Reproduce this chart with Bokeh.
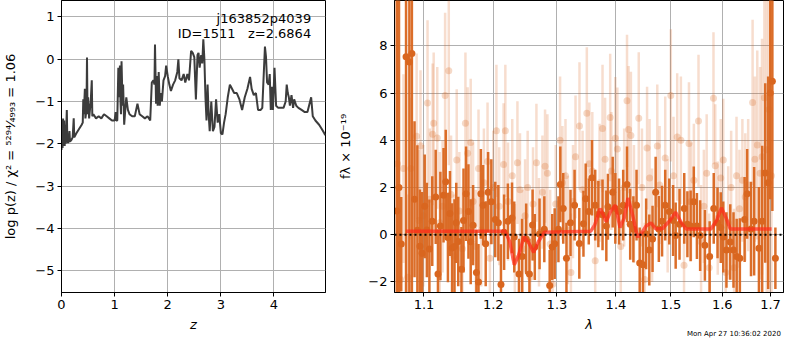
from bokeh.plotting import figure
from bokeh.layouts import row, column
from bokeh.models import Range1d, FixedTicker, CustomJSTickFormatter, Label, ColumnDataSource, Span, Div
from bokeh.embed import file_html
from bokeh.resources import INLINE

# ---------------- data: redshift probability ----------------
z_grid = [0.00, 0.01, 0.02, 0.03, 0.04, 0.05, 0.06, 0.07, 0.08, 0.10, 0.11, 0.13, 0.15, 0.16,
          0.19, 0.21, 0.23, 0.24, 0.28, 0.33, 0.38, 0.40, 0.41, 0.42, 0.44, 0.45, 0.47, 0.48,
          0.49, 0.50, 0.52, 0.55, 0.57, 0.58, 0.60, 0.65, 0.70, 0.75, 0.80, 0.85, 0.90, 0.95,
          1.00, 1.02, 1.03, 1.05, 1.07, 1.08, 1.10, 1.11, 1.12, 1.13, 1.15, 1.16, 1.18, 1.20,
          1.22, 1.25, 1.28, 1.33, 1.38, 1.43, 1.47, 1.52, 1.57, 1.62, 1.67, 1.70, 1.73, 1.75,
          1.76, 1.78, 1.80, 1.81, 1.83, 1.85, 1.87, 1.89, 1.92, 1.95, 1.97, 2.00, 2.03, 2.06,
          2.10, 2.14, 2.18, 2.20, 2.22, 2.26, 2.30, 2.33, 2.37, 2.40, 2.44, 2.47, 2.50, 2.53,
          2.56, 2.58, 2.60, 2.63, 2.65, 2.67, 2.69, 2.71, 2.73, 2.75, 2.77, 2.79, 2.82, 2.85,
          2.88, 2.91, 2.94, 2.97, 3.00, 3.03, 3.06, 3.09, 3.13, 3.17, 3.21, 3.25, 3.30, 3.35,
          3.40, 3.45, 3.50, 3.55, 3.58, 3.62, 3.66, 3.70, 3.75, 3.78, 3.83, 3.85, 3.87, 3.90,
          3.92, 3.94, 3.96, 3.98, 4.01, 4.04, 4.08, 4.12, 4.18, 4.22, 4.24, 4.26, 4.28, 4.30,
          4.33, 4.36, 4.38, 4.42, 4.46, 4.52, 4.58, 4.63, 4.66, 4.70, 4.73, 4.78, 4.85, 4.90,
          4.95, 4.97]
log_pz = [-2.15, -1.45, -2.10, -1.40, -2.05, -1.45, -2.05, -1.55, -2.00, -1.20, -1.95, -1.98, -1.70, -1.95,
          -1.90, -1.85, -1.40, -1.85, -1.75, -1.65, -1.55, -1.50, -0.95, -1.30, -0.70, -1.40, -1.20, 0.04,
          -1.30, -0.90, -1.40, -1.00, -0.50, -1.35, -1.30, -1.40, -1.35, -1.40, -1.30, -1.35, -1.40, -1.45,
          -1.45, -1.25, -1.45, -1.45, -0.20, -0.90, -0.15, -1.00, -1.30, -0.05, -1.10, -0.60, -1.55, -1.20,
          -0.90, -1.20, -1.30, -1.35, -1.35, -1.05, -1.30, -1.35, -1.40, -1.35, -1.45, -0.55, -0.50, -0.60,
          0.35, -1.05, -0.40, -1.10, -0.30, -1.10, -0.80, -1.00, -0.50, -0.40, -0.15, -0.40, -0.60, -0.75,
          -0.60, -0.50, -0.30, 0.00, -0.45, -0.50, -0.35, -0.55, -0.35, -0.50, 0.20, 0.15, 0.05, -0.95,
          0.10, 0.15, -0.20, 0.10, -0.10, 0.47, 0.00, -0.90, -1.45, -0.60, -1.30, -1.70, -1.00, -1.70,
          -1.60, -0.95, -1.50, -1.30, -1.75, -1.78, -1.50, -1.30, -0.90, -0.60, -0.70, -0.80, -0.80, -0.95,
          -1.20, -0.90, -0.70, -0.42, -0.70, -0.85, -0.80, -1.20, -1.20, -1.15, 0.30, 0.05, -0.55, -0.60,
          -0.35, -1.20, -0.65, -1.20, -0.20, -1.10, -1.15, -1.15, -1.15, -1.00, -0.60, -0.80, -0.90, -1.10,
          -0.85, -1.15, -0.95, -1.10, -1.15, -1.20, -1.25, -1.25, -1.10, -0.90, -1.35, -1.45, -1.55, -1.65,
          -1.76, -1.80]

z_ticks = [0, 1, 2, 3, 4]
pz_ticks = [1, 0, -1, -2, -3, -4, -5]

# ---------------- data: spectrum ----------------
dark_wave = [1.0630, 1.0660, 1.0690, 1.0755, 1.0800, 1.0834, 1.0870, 1.0909, 1.0944, 1.0974,
             1.1010, 1.1040, 1.1075, 1.1115, 1.1163, 1.1195, 1.1229, 1.1274, 1.1305, 1.1336,
             1.1365, 1.1395, 1.1430, 1.1455, 1.1484, 1.1530, 1.1560, 1.1597, 1.1632, 1.1665,
             1.1700, 1.1749, 1.1780, 1.1815, 1.1848, 1.1887, 1.1923, 1.1971, 1.2030, 1.2077,
             1.2117, 1.2165, 1.2223, 1.2286, 1.2321, 1.2394, 1.2443, 1.2507, 1.2558, 1.2608,
             1.2643, 1.2719, 1.2795, 1.2882, 1.2923, 1.2963, 1.3024, 1.3055, 1.3103, 1.3156,
             1.3223, 1.3291, 1.3370, 1.3440, 1.3478, 1.3530, 1.3585, 1.3640, 1.3694, 1.3766,
             1.3832, 1.3860, 1.3943, 1.3989, 1.4055, 1.4128, 1.4196, 1.4253, 1.4310, 1.4367,
             1.4424, 1.4483, 1.4541, 1.4599, 1.4659, 1.4716, 1.4775, 1.4835, 1.4894, 1.4970,
             1.5042, 1.5091, 1.5164, 1.5254, 1.5315, 1.5377, 1.5438, 1.5499, 1.5562, 1.5655,
             1.5749, 1.5830, 1.5906, 1.5970, 1.6021, 1.6085, 1.6162, 1.6228, 1.6293, 1.6358,
             1.6456, 1.6509, 1.6589, 1.6654, 1.6755, 1.6823, 1.6888, 1.6950, 1.6995, 1.7040,
             1.7105]
dark_flux = [1.0, 2.0, -0.4, 7.54, 7.31, 7.67, 1.5, 0.19, -0.49, -0.79,
             1.2, 0.2, -0.61, 0.57, 1.6, -1.67, 0.37, 1.67, 2.24, -0.12,
             0.9, -0.57, -0.5, 0.5, -0.29, -1.47, 0.6, 1.73, 0.98, -0.3,
             0.4, -1.6, -2.0, 1.73, 1.25, -0.38, 1.8, 1.39, 0.64, 0.5,
             -2.11, 0.1, 0.57, 0.71, -0.1, -1.67, -0.93, -0.18, -1.67, 0.41,
             -0.52, 0.03, 0.23, -2.15, -0.52, -0.38, 0.23, 2.13, 1.11, -1.0,
             0.5, 1.25, -0.37, 0.46, 1.52, 0.98, 2.41, 1.25, 0.87, 0.84,
             0.37, 1.18, 1.8, 1.11, 0.98, 1.25, 2.13, 0.44, 0.23, 1.25,
             -1.2, -1.27, 0.03, -0.65, -0.18, 1.8, 0.24, 0.57, 1.25, 0.98,
             0.6, -0.04, 0.44, 1.11, 0.44, 0.37, 1.39, 0.37, -0.04, -0.45,
             -0.93, 1.11, 0.5, 0.3, -0.1, -0.65, -0.31, -0.65, -0.93, -1.0,
             0.64, 1.73, 0.24, 0.57, -0.58, 0.57, 2.61, 2.2, 6.0, 6.5,
             -1.0]
dark_err = [12, 12, 2.0, 11, 11, 11, 3.3, 3.6, 2.4, 2.6,
            2.2, 2.0, 2.1, 1.9, 2.0, 1.9, 2.3, 2.0, 2.2, 1.9,
            1.8, 1.9, 2.0, 1.7, 1.9, 1.8, 2.2, 2.0, 2.0, 1.8,
            1.7, 1.8, 1.6, 1.9, 1.7, 1.8, 1.7, 1.8, 1.6, 1.6,
            1.7, 1.6, 1.6, 1.5, 1.5, 1.5, 1.6, 1.5, 1.5, 1.5,
            1.4, 1.5, 1.4, 1.5, 1.4, 1.5, 1.4, 1.6, 1.5, 1.5,
            1.4, 1.5, 1.5, 1.4, 1.5, 1.4, 1.6, 1.5, 1.4, 1.5,
            1.5, 1.4, 1.5, 1.5, 1.4, 1.5, 1.6, 1.5, 1.4, 1.5,
            1.5, 1.4, 1.5, 1.5, 1.4, 1.5, 1.4, 1.5, 1.5, 1.4,
            1.5, 1.4, 1.5, 1.5, 1.4, 1.5, 1.5, 1.4, 1.5, 1.5,
            1.5, 1.5, 1.5, 1.5, 1.5, 1.6, 1.6, 1.6, 1.6, 1.7,
            1.8, 1.9, 2.0, 2.3, 2.6, 3.2, 3.8, 4.5, 4.5, 5.5,
            1.3]

light_wave = [1.0640, 1.0680, 1.0720, 1.0780, 1.0820, 1.0899, 1.0930, 1.0952, 1.0990, 1.1049,
              1.1080, 1.1120, 1.1135, 1.1185, 1.1220, 1.1260, 1.1296, 1.1348, 1.1380, 1.1420,
              1.1462, 1.1500, 1.1545, 1.1588, 1.1620, 1.1665, 1.1700, 1.1740, 1.1780, 1.1820,
              1.1860, 1.1914, 1.1950, 1.2000, 1.2048, 1.2090, 1.2157, 1.2184, 1.2225, 1.2290,
              1.2330, 1.2370, 1.2410, 1.2450, 1.2490, 1.2530, 1.2570, 1.2615, 1.2669, 1.2710,
              1.2765, 1.2807, 1.2845, 1.2890, 1.2930, 1.2980, 1.3051, 1.3090, 1.3140, 1.3180,
              1.3230, 1.3265, 1.3307, 1.3373, 1.3425, 1.3497, 1.3540, 1.3590, 1.3640, 1.3715,
              1.3766, 1.3810, 1.3899, 1.3920, 1.3989, 1.4025, 1.4085, 1.4145, 1.4196, 1.4224,
              1.4265, 1.4320, 1.4407, 1.4465, 1.4515, 1.4558, 1.4605, 1.4650, 1.4746, 1.4790,
              1.4894, 1.4940, 1.4999, 1.5050, 1.5120, 1.5190, 1.5250, 1.5345, 1.5385, 1.5440,
              1.5530, 1.5580, 1.5635, 1.5690, 1.5740, 1.5825, 1.5860, 1.5910, 1.5970, 1.6021,
              1.6070, 1.6120, 1.6180, 1.6240, 1.6290, 1.6350, 1.6410, 1.6470, 1.6530, 1.6622,
              1.6670, 1.6720, 1.6780, 1.6820, 1.6870, 1.6920, 1.6970, 1.7020]
light_flux = [3.0, -1.9, 2.8, -1.8, 2.8, 4.17, 0.6, 3.77, 0.8, 5.58,
              1.5, 4.25, 4.72, 4.1, 0.5, 1.2, 5.9, 6.94, 1.7, -0.9,
              3.16, 1.0, -0.6, 4.72, 3.45, 3.9, 1.4, -0.5, 2.8, 0.2,
              2.2, 3.1, -1.0, 2.0, 4.4, 1.2, 2.97, 4.4, 1.4, 2.5,
              -1.0, 3.05, 1.9, -0.6, 0.8, 2.0, -1.8, 1.3, 3.05, 0.1,
              1.8, 2.9, 2.6, -0.4, -2.1, 1.3, 4.0, 2.2, 2.5, 0.2,
              -1.6, 1.4, 3.3, 4.6, 1.9, 5.14, 3.0, 2.7, -1.1, 2.2,
              4.5, 3.2, 4.96, 2.7, 4.08, 3.63, -0.5, 2.0, 5.67, 4.45,
              4.2, 1.3, 4.93, 2.0, -1.9, 3.67, 2.4, 0.4, 3.76, 2.1,
              3.25, 0.8, 5.9, 2.5, 4.14, 4.0, -1.3, 3.86, 1.4, 2.3,
              4.82, -0.3, 1.2, 2.6, -1.4, 5.78, 2.92, 0.7, 2.4, 3.16,
              -1.6, 0.5, 2.0, -1.4, 2.5, 1.1, 2.3, 1.6, 2.1, 5.6,
              3.2, 3.8, 2.6, 3.3, 5.8, 3.6, 5.3, 2.5]
light_err = [8.0, 4.0, 4.0, 3.5, 3.0, 3.5, 3.0, 3.2, 3.0, 3.5,
             3.0, 3.0, 3.0, 3.0, 3.0, 2.8, 3.5, 4.0, 2.5, 2.6,
             3.0, 2.5, 2.6, 3.0, 2.8, 2.7, 2.5, 2.4, 2.5, 2.4,
             2.3, 2.5, 2.4, 2.4, 2.8, 2.5, 2.6, 2.8, 2.5, 2.4,
             2.3, 2.6, 2.4, 2.5, 2.4, 2.4, 2.3, 2.4, 2.5, 2.3,
             2.4, 2.4, 2.5, 2.3, 2.4, 2.5, 2.7, 2.4, 2.4, 2.3,
             2.5, 2.4, 2.6, 2.7, 2.5, 2.8, 2.6, 2.5, 2.4, 2.5,
             2.7, 2.6, 2.7, 2.5, 2.6, 2.6, 2.4, 2.5, 2.8, 2.7,
             2.7, 2.5, 2.8, 2.5, 2.4, 2.6, 2.5, 2.4, 2.6, 2.5,
             2.6, 2.4, 2.8, 2.5, 2.7, 2.7, 2.4, 2.6, 2.5, 2.4,
             2.8, 2.4, 2.4, 2.5, 2.3, 2.8, 2.6, 2.4, 2.5, 2.6,
             2.4, 2.4, 2.4, 2.5, 2.5, 2.5, 2.6, 2.7, 2.8, 3.5,
             3.5, 4.0, 4.5, 5.0, 6.0, 7.0, 8.0, 8.0]

model_wave = [1.0753, 1.2179, 1.2252, 1.2321, 1.2385, 1.2474, 1.2549, 1.2625, 1.2700, 1.2792,
              1.3565, 1.3630, 1.3723, 1.3778, 1.3827, 1.3910, 1.3989, 1.4072, 1.4145, 1.4213,
              1.4299, 1.4385, 1.4454, 1.4541, 1.4628, 1.4716, 1.4840, 1.4982, 1.5091, 1.5200,
              1.5291, 1.5774, 1.5888, 1.5983, 1.6079, 1.6162, 1.7024]
model_flux = [0.15, 0.15, -0.3, -1.27, -0.9, -0.08, -0.35, -0.75, -0.3, 0.1,
              0.15, 0.4, 1.1, 0.85, 0.55, 1.0, 1.25, 0.3, 0.7, 1.55,
              0.8, -0.1, 0.05, 0.37, 0.5, 0.25, 0.25, 0.6, 0.95, 0.5,
              0.24, 0.24, 0.6, 1.14, 0.7, 0.24, 0.24]

wave_ticks = [1.1, 1.2, 1.3, 1.4, 1.5, 1.6, 1.7]
flux_ticks = [-2, 0, 2, 4, 6, 8]

timestamp = "Mon Apr 27 10:36:02 2020"

FONT = "DejaVu Sans"
ORANGE = "#d9661f"
minus_fmt = "return (tick < 0 ? '\u2212' : '') + Math.abs(tick).toString();"


def style(p):
    p.outline_line_color = "black"
    p.outline_line_width = 1
    p.outline_line_alpha = 1
    p.background_fill_color = "white"
    p.border_fill_color = "white"
    for ax in (p.xaxis[0], p.yaxis[0]):
        ax.axis_line_color = "black"
        ax.major_tick_out = 4
        ax.major_tick_in = 0
        ax.major_tick_line_color = "black"
        ax.minor_tick_line_color = None
        ax.major_label_text_font = FONT
        ax.major_label_text_font_size = "13px"
        ax.major_label_text_color = "black"
        ax.axis_label_text_font = FONT
        ax.axis_label_text_font_size = "13px"
        ax.axis_label_text_color = "black"
        ax.major_label_standoff = 3
    for g in (p.xgrid[0], p.ygrid[0]):
        g.grid_line_color = "#b0b0b0"
        g.grid_line_width = 1
        g.grid_line_alpha = 1


H = 334

# ---------------- left panel ----------------
p1 = figure(width=335, height=H, output_backend="svg", toolbar_location=None,
            x_range=Range1d(0, 4.97), y_range=Range1d(-5.52, 1.39),
            min_border_left=54, min_border_right=10, min_border_top=0, min_border_bottom=38)
style(p1)
p1.xaxis.ticker = FixedTicker(ticks=z_ticks)
p1.yaxis.ticker = FixedTicker(ticks=pz_ticks)
p1.xgrid.ticker = FixedTicker(ticks=z_ticks)
p1.ygrid.ticker = FixedTicker(ticks=pz_ticks)
p1.xaxis.formatter = CustomJSTickFormatter(code=minus_fmt)
p1.yaxis.formatter = CustomJSTickFormatter(code=minus_fmt)
p1.xaxis.axis_label = "z"
p1.xaxis.axis_label_text_font_style = "italic"
p1.xaxis.axis_label_standoff = 5
p1.yaxis.axis_label = "log p(z) / χ² = ⁵²⁹⁴⁄₄₉₉₃ = 1.06"
p1.yaxis.axis_label_text_font_style = "normal"
p1.yaxis.axis_label_standoff = 14

p1.line(z_grid, log_pz, line_color="#3c3c3c", line_width=2)
p1.add_layout(Label(x=4.70, y=0.97, text="j163852p4039", text_align="right", text_baseline="middle",
                    text_font=FONT, text_font_size="13px", text_color="black"))
p1.add_layout(Label(x=4.70, y=0.60, text="ID=1511\u00a0\u00a0\u00a0z=2.6864", text_align="right",
                    text_baseline="middle", text_font=FONT, text_font_size="13px", text_color="black"))

# ---------------- right panel ----------------
p2 = figure(width=449, height=H, output_backend="svg", toolbar_location=None,
            x_axis_type="log", x_range=Range1d(1.06, 1.728), y_range=Range1d(-2.45, 9.92),
            min_border_left=48, min_border_right=1, min_border_top=0, min_border_bottom=38)
style(p2)
p2.xaxis.ticker = FixedTicker(ticks=wave_ticks)
p2.yaxis.ticker = FixedTicker(ticks=flux_ticks)
p2.xgrid.ticker = FixedTicker(ticks=wave_ticks)
p2.ygrid.ticker = FixedTicker(ticks=flux_ticks)
p2.xaxis.formatter = CustomJSTickFormatter(code="return tick.toFixed(1);")
p2.yaxis.formatter = CustomJSTickFormatter(code=minus_fmt)
p2.xaxis.axis_label = "λ"
p2.xaxis.axis_label_text_font_style = "italic"
p2.xaxis.axis_label_standoff = 5
p2.yaxis.axis_label = "fλ × 10⁻¹⁹"
p2.yaxis.axis_label_text_font_style = "normal"
p2.yaxis.axis_label_standoff = 12

light = ColumnDataSource(dict(x=light_wave, y=light_flux,
                              lo=[f - e for f, e in zip(light_flux, light_err)],
                              hi=[f + e for f, e in zip(light_flux, light_err)]))
dark = ColumnDataSource(dict(x=dark_wave, y=dark_flux,
                             lo=[f - e for f, e in zip(dark_flux, dark_err)],
                             hi=[f + e for f, e in zip(dark_flux, dark_err)]))

p2.segment(x0="x", y0="lo", x1="x", y1="hi", source=light, line_color=ORANGE, line_alpha=0.22, line_width=2.5)
p2.scatter("x", "y", source=light, size=7, fill_color=ORANGE, fill_alpha=0.25, line_color=None)
p2.segment(x0="x", y0="lo", x1="x", y1="hi", source=dark, line_color=ORANGE, line_alpha=0.95, line_width=2.5)
p2.scatter("x", "y", source=dark, size=7, fill_color=ORANGE, fill_alpha=1.0, line_color=None)

p2.add_layout(Span(location=0, dimension="width", line_color="black", line_width=2, line_dash="2 3"))
p2.line(model_wave, model_flux, line_color="#ff2a1a", line_alpha=0.7, line_width=3.5)

# timestamp under the right panel, level with the lambda label
stamp = Div(text=('<div style="padding-left:687px;white-space:nowrap;font-family:\'DejaVu Sans\';'
                  'font-size:7px;line-height:12px;color:black;">' + timestamp + '</div>'),
            width=784, height=10, margin=(-10, 0, 0, 0))

layout = column(row(p1, p2), stamp)
open("out.html", "w").write(file_html(layout, INLINE))
